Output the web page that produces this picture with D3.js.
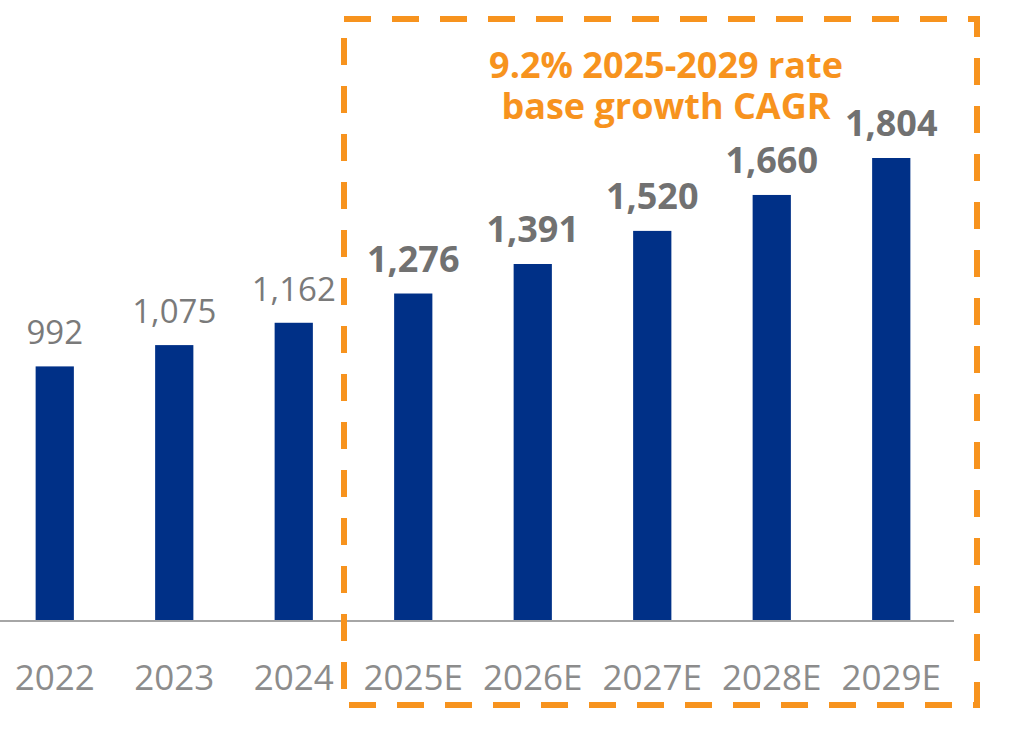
<!DOCTYPE html>
<html>
<head>
<meta charset="utf-8">
<script src="https://cdn.jsdelivr.net/npm/d3@7"></script>
<style>
  body { margin: 0; background: #fff; }
  svg { display: block; font-family: "Open Sans", "Noto Sans", sans-serif; }
</style>
</head>
<body>
<svg id="chart"></svg>
<script>
var width = 1024,
    height = 732;

// data
var years = ["2022", "2023", "2024", "2025E", "2026E", "2027E", "2028E", "2029E"];
var values = [992, 1075, 1162, 1276, 1391, 1520, 1660, 1804];
var forecast = [false, false, false, true, true, true, true, true];
var noteLines = ["9.2% 2025-2029 rate", "base growth CAGR"];

var data = years.map(function(y, i) {
    return { year: y, value: values[i], forecast: forecast[i] };
});

var baseY = 621;

var svg = d3.select("#chart")
    .attr("width", width)
    .attr("height", height);

var x = d3.scaleBand()
    .domain(years)
    .range([-5, 951])
    .paddingInner(0.68)
    .paddingOuter(0.34);

var y = d3.scaleLinear()
    .domain([0, 1804])
    .range([baseY, 158]);

// bars
svg.append("g")
    .selectAll("rect")
    .data(data)
    .enter().append("rect")
        .attr("x", function(d) { return x(d.year); })
        .attr("y", function(d) { return y(d.value); })
        .attr("width", x.bandwidth())
        .attr("height", function(d) { return baseY - y(d.value); })
        .attr("fill", "#003087");

// value labels (forecast years in bold)
svg.append("g")
    .selectAll("text")
    .data(data)
    .enter().append("text")
        .attr("x", function(d) { return x(d.year) + x.bandwidth() / 2; })
        .attr("y", function(d) { return y(d.value) - 22; })
        .attr("text-anchor", "middle")
        .attr("font-size", function(d) { return d.forecast ? 36 : 33; })
        .attr("font-weight", function(d) { return d.forecast ? 700 : 400; })
        .attr("fill", function(d) { return d.forecast ? "#717171" : "#7a7a7a"; })
        .text(function(d) { return d3.format(",")(d.value); });

// x axis (no ticks, just labels)
var xAxis = svg.append("g")
    .attr("transform", "translate(0," + baseY + ")")
    .call(d3.axisBottom(x).tickSize(0).tickPadding(44));
xAxis.select(".domain").remove();
xAxis.selectAll("text")
    .attr("font-size", 35)
    .attr("font-family", "'Open Sans', 'Noto Sans', sans-serif")
    .attr("fill", "#8c8c8c");

svg.append("line")
    .attr("x1", 0)
    .attr("x2", 954)
    .attr("y1", baseY)
    .attr("y2", baseY)
    .attr("stroke", "#a6a6a6")
    .attr("stroke-width", 2);

// dashed forecast box
svg.append("rect")
    .attr("x", 344)
    .attr("y", 19)
    .attr("width", 633)
    .attr("height", 686)
    .attr("fill", "none")
    .attr("stroke", "#f7931e")
    .attr("stroke-width", 6)
    .attr("stroke-dasharray", "27,21");

// CAGR note
svg.append("g")
    .selectAll("text")
    .data(noteLines)
    .enter().append("text")
        .attr("x", 666)
        .attr("y", function(d, i) { return 78 + i * 41; })
        .attr("text-anchor", "middle")
        .attr("font-size", 36)
        .attr("font-weight", 700)
        .attr("fill", "#f7931e")
        .text(function(d) { return d; });
</script>
</body>
</html>
